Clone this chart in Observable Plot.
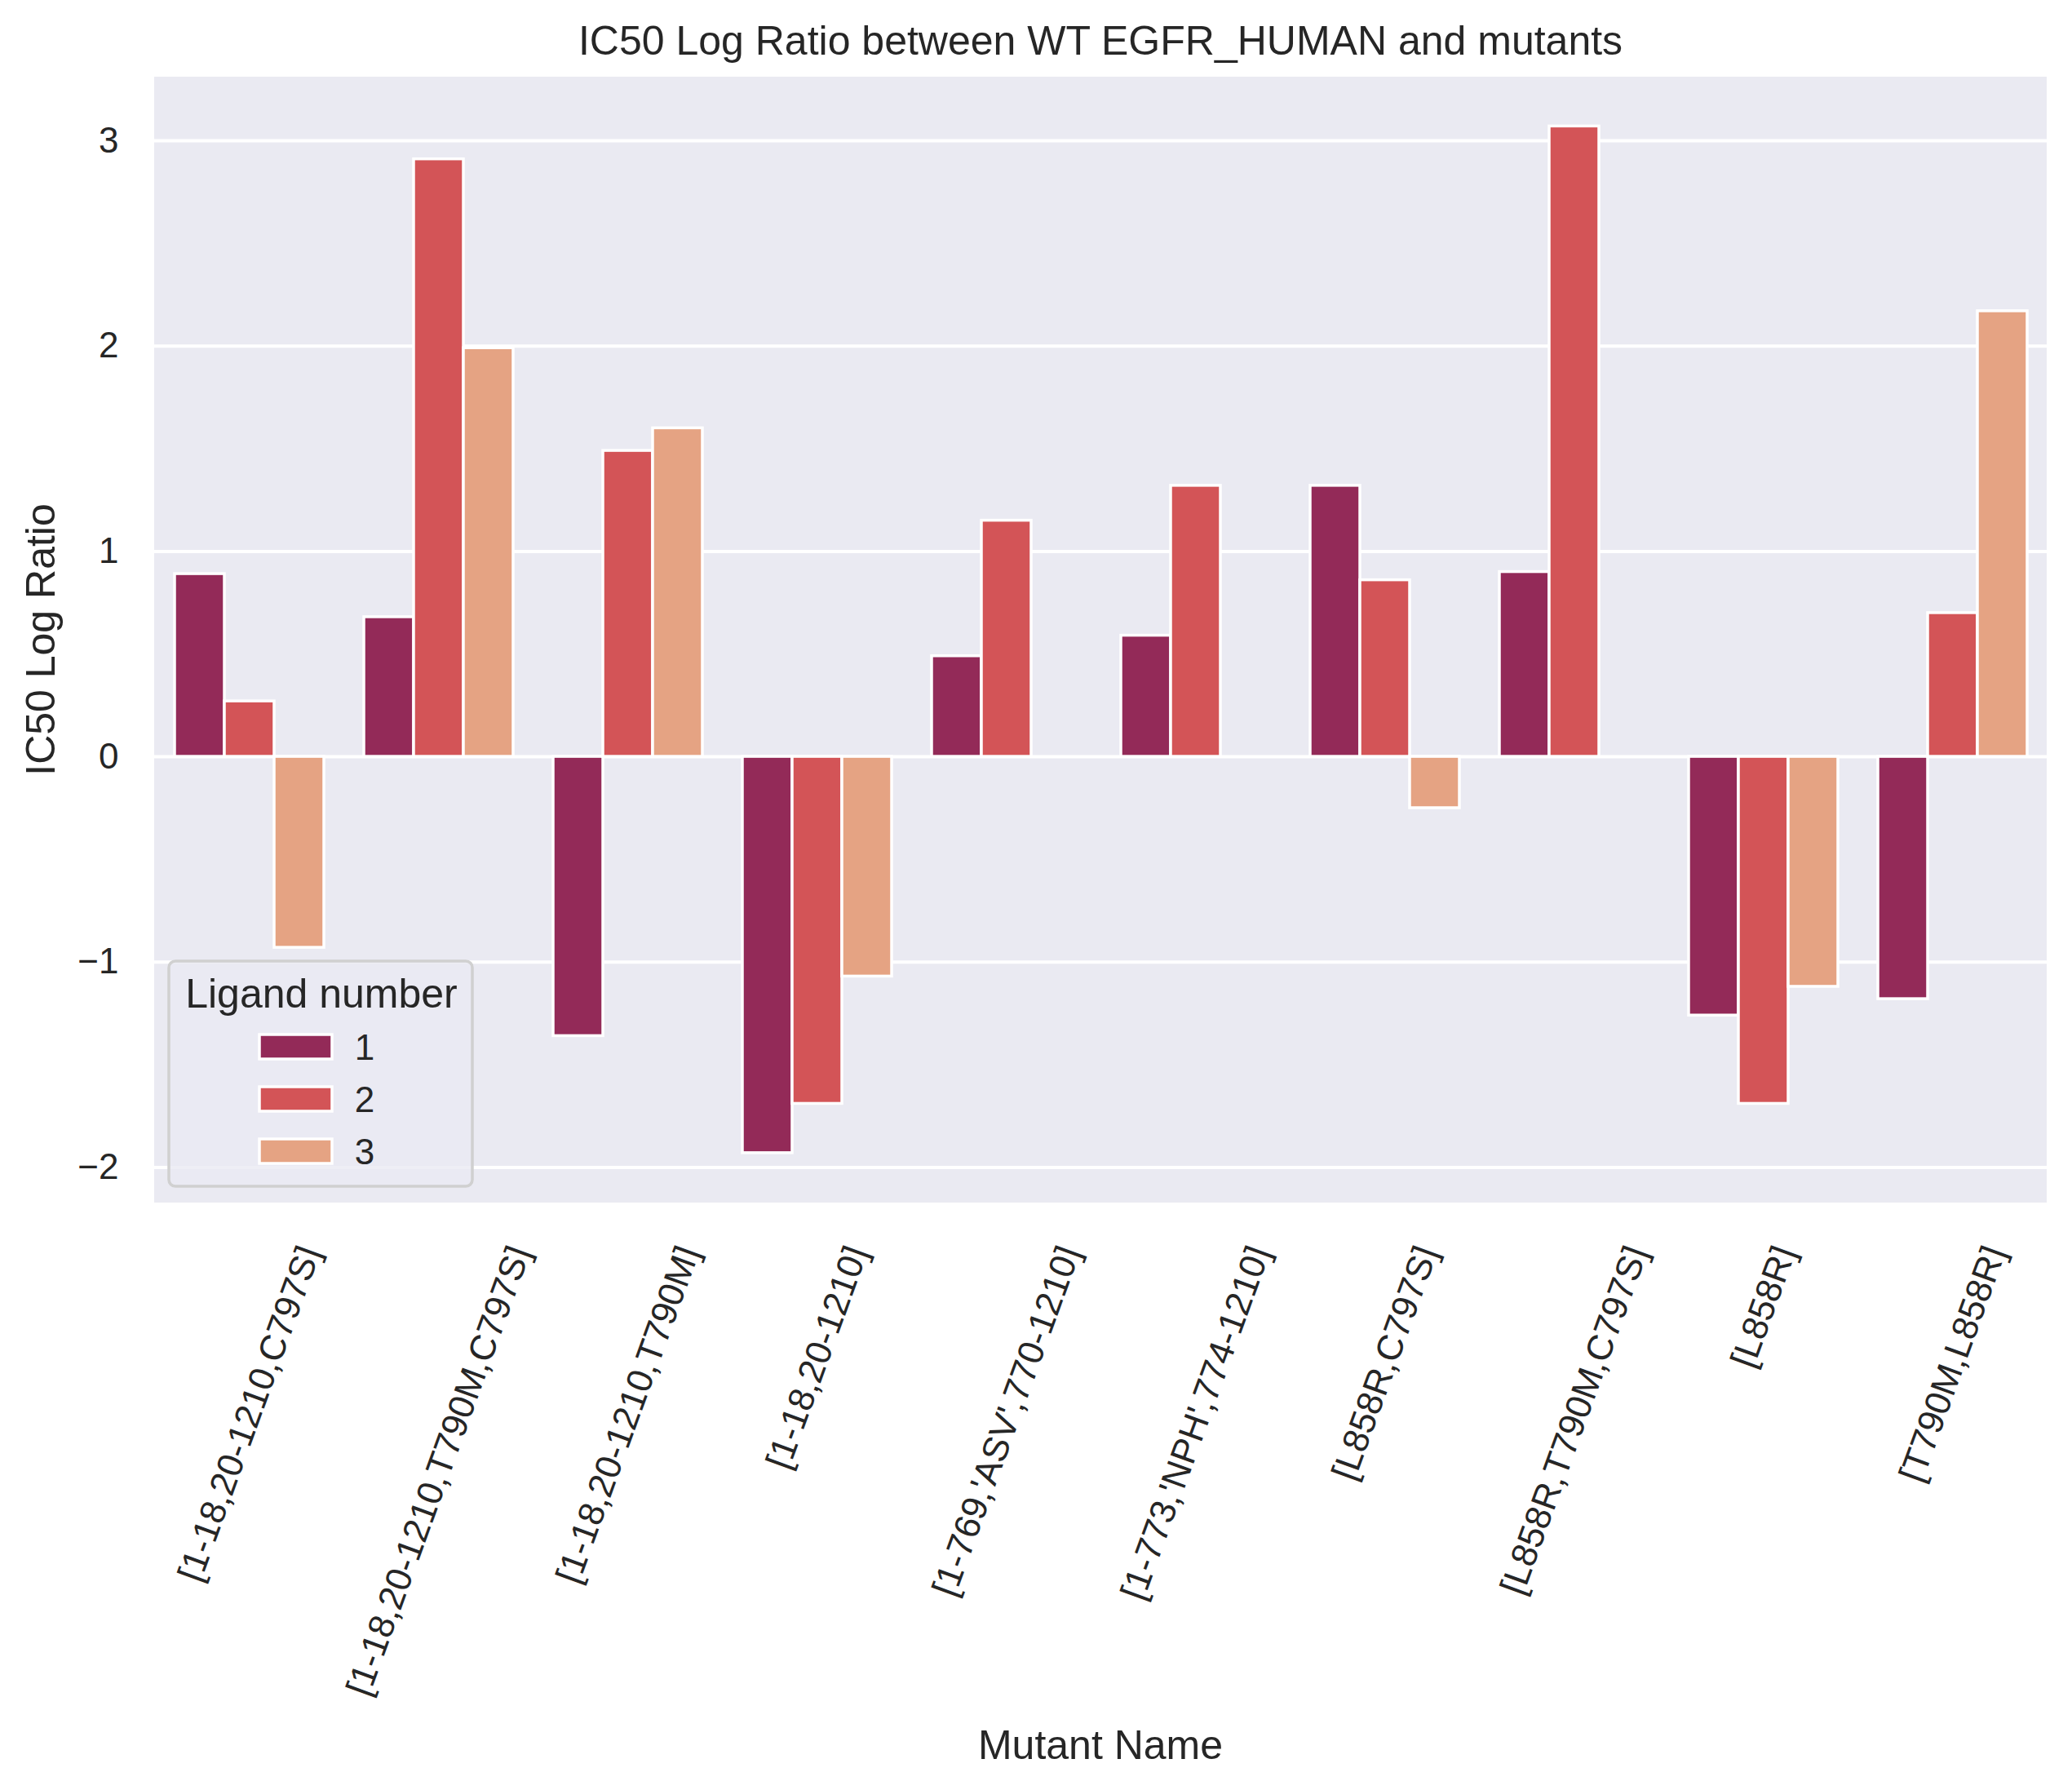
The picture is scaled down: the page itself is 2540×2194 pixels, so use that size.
<!DOCTYPE html>
<html>
<head>
<meta charset="utf-8">
<script src="https://cdn.jsdelivr.net/npm/d3@7"></script>
<script src="https://cdn.jsdelivr.net/npm/@observablehq/plot@0.6"></script>
<style>
  html, body { margin: 0; padding: 0; background: white; }
  svg { display: block; }
</style>
</head>
<body>
<script>
const mutants = [
  "[1-18,20-1210,C797S]",
  "[1-18,20-1210,T790M,C797S]",
  "[1-18,20-1210,T790M]",
  "[1-18,20-1210]",
  "[1-769,'ASV',770-1210]",
  "[1-773,'NPH',774-1210]",
  "[L858R,C797S]",
  "[L858R,T790M,C797S]",
  "[L858R]",
  "[T790M,L858R]"
];
const ligands = [1, 2, 3];
const ligand1 = [0.89, 0.68, -1.36, -1.93, 0.49, 0.59, 1.32, 0.90, -1.26, -1.18];
const ligand2 = [0.27, 2.91, 1.49, -1.69, 1.15, 1.32, 0.86, 3.07, -1.69, 0.70];
const ligand3 = [-0.93, 1.99, 1.60, -1.07, null, null, -0.25, null, -1.12, 2.17];
const colors = ["#932A58", "#D35457", "#E5A383"];

const W = 2540, H = 2194;
const mL = 189, mR = 31, mT = 94, mB = 720;
const FONT = "'Liberation Sans', Arial, Helvetica, sans-serif";
const TEXT = "#262626";

const series = [ligand1, ligand2, ligand3];
const data = [];
mutants.forEach((m, i) => series.forEach((s, j) => {
  if (s[i] != null) data.push({mutant: m, ligand: ligands[j], value: s[i]});
}));

const plot = Plot.plot({
  width: W, height: H,
  marginLeft: mL, marginRight: mR, marginTop: mT, marginBottom: mB,
  style: {fontFamily: FONT, fontSize: "44px", color: TEXT, background: "white", overflow: "visible"},
  fx: {domain: mutants, padding: 0, axis: null, label: null},
  x: {domain: ligands, paddingInner: 0, paddingOuter: 0.375, axis: null, label: null},
  y: {domain: [-2.173, 3.31], ticks: 6, tickSize: 0, tickPadding: 44, label: null},
  color: {domain: ligands, range: colors},
  marks: [
    Plot.ruleY(d3.ticks(-2.173, 3.31, 6), {stroke: "white", strokeWidth: 4}),
    Plot.barY(data, {fx: "mutant", x: "ligand", y: "value", fill: "ligand", stroke: "white", strokeWidth: 3.5})
  ]
});
document.body.appendChild(plot);

const svg = d3.select(plot);
const fxBand = d3.scaleBand().domain(mutants).range([mL, W - mR]).padding(0);
const yScale = plot.scale("y");

// single continuous axes background behind all facets
svg.insert("rect", ":first-child")
  .attr("x", mL).attr("y", mT)
  .attr("width", W - mL - mR).attr("height", H - mT - mB)
  .attr("fill", "#EAEAF2");

// title
svg.append("text")
  .attr("x", (mL + W - mR) / 2).attr("y", 67)
  .attr("text-anchor", "middle")
  .attr("font-family", FONT).attr("font-size", 50).attr("fill", TEXT)
  .text("IC50 Log Ratio between WT EGFR_HUMAN and mutants");

// y label
svg.append("text")
  .attr("transform", `translate(67,${(mT + H - mB) / 2}) rotate(-90)`)
  .attr("text-anchor", "middle")
  .attr("font-family", FONT).attr("font-size", 50).attr("fill", TEXT)
  .text("IC50 Log Ratio");

// x label
svg.append("text")
  .attr("x", (mL + W - mR) / 2).attr("y", 2156)
  .attr("text-anchor", "middle")
  .attr("font-family", FONT).attr("font-size", 50).attr("fill", TEXT)
  .text("Mutant Name");

// x tick labels, rotated 70°, bbox centered on tick
const gx = svg.append("g").attr("font-family", FONT).attr("font-size", 44).attr("fill", TEXT);
const y0 = H - mB + 55;
const c70 = Math.cos(70 * Math.PI / 180);
mutants.forEach(m => {
  const cx = fxBand(m) + fxBand.bandwidth() / 2;
  const t = gx.append("text").attr("text-anchor", "end").attr("dy", "0.35em").text(m);
  const L = t.node().getComputedTextLength();
  t.attr("transform", `translate(${cx + 0.5 * c70 * L},${y0}) rotate(-70)`);
});

// legend
const lg = svg.append("g").attr("font-family", FONT).attr("fill", TEXT);
lg.append("rect")
  .attr("x", 207).attr("y", 1178).attr("width", 372).attr("height", 276)
  .attr("rx", 8).attr("ry", 8)
  .attr("fill", "#EAEAF2").attr("fill-opacity", 0.8)
  .attr("stroke", "#D0D0D0").attr("stroke-width", 3.5);
lg.append("text")
  .attr("x", 394).attr("y", 1235).attr("text-anchor", "middle")
  .attr("font-size", 50).text("Ligand number");
ligands.forEach((l, i) => {
  const cy = 1283 + i * 64;
  lg.append("rect")
    .attr("x", 318).attr("y", cy - 15).attr("width", 89).attr("height", 30)
    .attr("fill", colors[i]).attr("stroke", "white").attr("stroke-width", 3.5);
  lg.append("text")
    .attr("x", 447).attr("y", cy).attr("dy", "0.36em")
    .attr("font-size", 44).text(String(l));
});
</script>
</body>
</html>
